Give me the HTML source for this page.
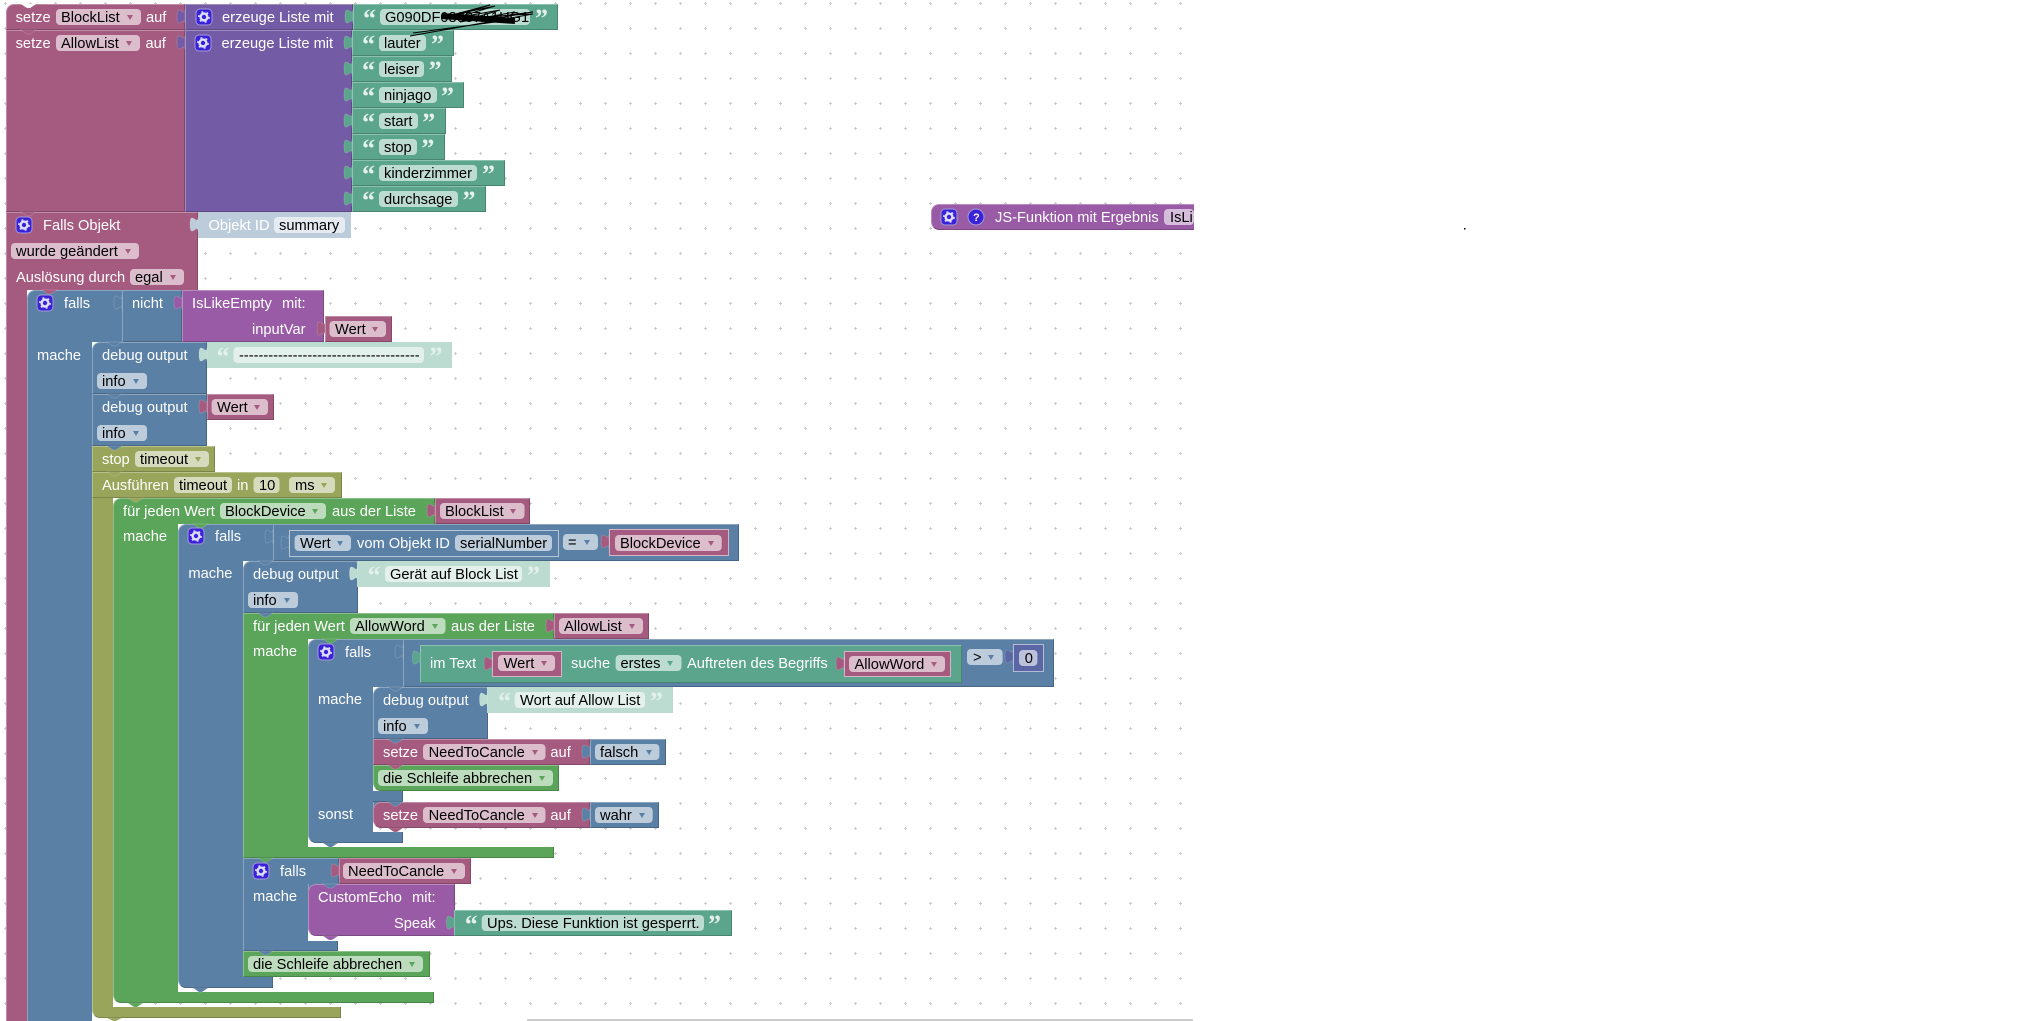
<!DOCTYPE html>
<html><head><meta charset="utf-8"><style>
html,body{margin:0;padding:0;background:#fff}
#r{position:relative;width:2021px;height:1021px;overflow:hidden;background:#fff}
svg{position:absolute;left:0;top:0}
.b{position:absolute;box-sizing:border-box;border:1px solid;border-color:var(--l) var(--d) var(--d) var(--l)}
.c{border-top:0;border-bottom:0;border-right:0}
.n{border-bottom:0}
.e{border-color:rgba(255,255,255,.55)}
.v{background:#a55b80;--l:#c08ca6;--d:#844966}
.l{background:#745ba5;--l:#9e8cc0;--d:#5d4984}
.t{background:#5ba58c;--l:#8cc0af;--d:#498470}
.u{background:#5b80a5;--l:#8ca6c0;--d:#496684}
.p{background:#995ba5;--l:#b88cc0;--d:#7a4984}
.g{background:#5ba55b;--l:#8cc08c;--d:#498449}
.o{background:#99a55b;--l:#b8c08c;--d:#7a8449}
.m{background:#5b67a5;--l:#8c95c0;--d:#495284}
.s{background:#bddcd1;--l:#bddcd1;--d:#bddcd1}
.x{background:#bdccdb;--l:#bdccdb;--d:#bdccdb}
text{font:14.67px "Liberation Sans",sans-serif;fill:#000;white-space:pre}
text.w{fill:#fff}
text.q{font:bold 26px "Liberation Serif",serif;fill:#e4f0ec}
text.h{font:bold 11px "Liberation Sans",sans-serif;fill:#fff}
.V{fill:#a55b80}.L{fill:#745ba5}.T{fill:#5ba58c}.U{fill:#5b80a5}.P{fill:#995ba5}.G{fill:#5ba55b}.O{fill:#99a55b}.M{fill:#5b67a5}.S{fill:#bddcd1}.X{fill:#bdccdb}.W{fill:#fff}
.k path{stroke:rgba(255,255,255,.2);stroke-width:.7}
.fv{fill:#dbbdcc}.fu{fill:#bdccdb}.fo{fill:#d6dbbd}.fg{fill:#bddcbd}.ft{fill:#bddcd1}.fs{fill:#e4f0ec}.fx{fill:#e5ebf1}.fm{fill:#bdc2db}.fp{fill:#d6bddb}
</style></head><body><div id="r">
<svg width="2021" height="1021"><defs><pattern id="grid" width="25" height="25" patternUnits="userSpaceOnUse"><path d="M4 3.5h3M5.5 2v3" stroke="#ccc" stroke-width="1" fill="none"/></pattern></defs><rect width="1194" height="1021" fill="url(#grid)"/><rect x="527" y="1019" width="666" height="2" fill="#ccc"/><rect x="1464" y="228" width="1.5" height="1.5" fill="#000"/></svg>

<div class="b v" style="left:6px;top:4px;width:179px;height:26px;border-top-left-radius:8px"></div>
<div class="b v" style="left:6px;top:30px;width:179px;height:182px"></div>
<div class="b v n" style="left:6px;top:212px;width:192px;height:78px"></div>
<div class="b v c" style="left:6px;top:290px;width:21px;height:731px"></div>
<div class="b l" style="left:185px;top:4px;width:168px;height:26px"></div>
<div class="b l" style="left:185px;top:30px;width:167px;height:182px"></div>
<div class="b t" style="left:353px;top:4px;width:205px;height:26px"></div>
<div class="b t" style="left:352px;top:30px;width:102px;height:26px"></div>
<div class="b t" style="left:352px;top:56px;width:100px;height:26px"></div>
<div class="b t" style="left:352px;top:82px;width:112px;height:26px"></div>
<div class="b t" style="left:352px;top:108px;width:94px;height:26px"></div>
<div class="b t" style="left:352px;top:134px;width:93px;height:26px"></div>
<div class="b t" style="left:352px;top:160px;width:153px;height:26px"></div>
<div class="b t" style="left:352px;top:186px;width:134px;height:26px"></div>
<div class="b x" style="left:198px;top:212px;width:153px;height:26px"></div>

<div class="b u n" style="left:27px;top:290px;width:95px;height:52px;border-top-left-radius:8px;border-right:0"></div>
<div class="b u" style="left:122px;top:290px;width:60px;height:52px"></div>
<div class="b u c" style="left:27px;top:342px;width:65px;height:679px"></div>
<div class="b p" style="left:182px;top:290px;width:142px;height:52px"></div>
<div class="b v" style="left:325px;top:316px;width:67px;height:26px"></div>
<div class="b u" style="left:92px;top:342px;width:115px;height:52px;border-top-left-radius:8px"></div>
<div class="b u" style="left:92px;top:394px;width:115px;height:52px"></div>
<div class="b s" style="left:207px;top:342px;width:245px;height:26px"></div>
<div class="b v" style="left:207px;top:394px;width:67px;height:26px"></div>
<div class="b o" style="left:92px;top:446px;width:123px;height:26px"></div>
<div class="b o c" style="left:92px;top:498px;width:21px;height:510px"></div>
<div class="b o" style="left:92px;top:472px;width:250px;height:26px"></div>
<div class="b o" style="left:92px;top:1007px;width:249px;height:11px;border-top:0;border-bottom-left-radius:8px"></div>

<div class="b g c" style="left:113px;top:524px;width:65px;height:469px"></div>
<div class="b g n" style="left:113px;top:498px;width:322px;height:26px;border-top-left-radius:8px"></div>
<div class="b g" style="left:113px;top:992px;width:321px;height:11px;border-top:0;border-bottom-left-radius:8px"></div>
<div class="b v" style="left:435px;top:498px;width:95px;height:26px"></div>

<div class="b u c" style="left:178px;top:561px;width:65px;height:417px"></div>
<div class="b u n" style="left:178px;top:524px;width:95px;height:37px;border-top-left-radius:8px;border-right:0"></div>
<div class="b u" style="left:273px;top:524px;width:466px;height:37px"></div>
<div class="b u e" style="left:289px;top:530px;width:270px;height:27px"></div>
<div class="b v e" style="left:609px;top:529px;width:120px;height:27px"></div>
<div class="b u" style="left:178px;top:977px;width:95px;height:11px;border-top:0;border-bottom-left-radius:8px"></div>
<div class="b u" style="left:243px;top:561px;width:115px;height:52px;border-top-left-radius:8px"></div>
<div class="b s" style="left:357px;top:561px;width:193px;height:26px"></div>
<div class="b g c" style="left:243px;top:639px;width:65px;height:209px"></div>
<div class="b g n" style="left:243px;top:613px;width:311px;height:26px"></div>
<div class="b v" style="left:554px;top:613px;width:95px;height:26px"></div>
<div class="b g" style="left:243px;top:847px;width:311px;height:11px;border-top:0"></div>

<div class="b u c" style="left:308px;top:687px;width:65px;height:146px"></div>
<div class="b u n" style="left:308px;top:639px;width:95px;height:48px;border-top-left-radius:8px;border-right:0"></div>
<div class="b u" style="left:403px;top:639px;width:651px;height:48px"></div>
<div class="b t" style="left:420px;top:645px;width:542px;height:38px"></div>
<div class="b v e" style="left:492px;top:651px;width:70px;height:26px"></div>
<div class="b v e" style="left:844px;top:651px;width:107px;height:26px"></div>
<div class="b m e" style="left:1013px;top:644px;width:31px;height:28px"></div>
<div class="b u" style="left:308px;top:832px;width:95px;height:11px;border-top:0;border-bottom-left-radius:8px"></div>
<div class="b u" style="left:373px;top:791px;width:30px;height:11px;border-top:0;border-left:0"></div>
<div class="b u c" style="left:373px;top:802px;width:8px;height:8px"></div>
<div class="b u" style="left:373px;top:687px;width:115px;height:52px;border-top-left-radius:8px"></div>
<div class="b s" style="left:487px;top:687px;width:186px;height:26px"></div>
<div class="b v" style="left:373px;top:739px;width:217px;height:26px"></div>
<div class="b u" style="left:590px;top:739px;width:76px;height:26px"></div>
<div class="b g" style="left:373px;top:765px;width:186px;height:26px;border-bottom-left-radius:8px"></div>
<div class="b v" style="left:373px;top:802px;width:217px;height:26px;border-radius:8px 0 0 8px"></div>
<div class="b u" style="left:590px;top:802px;width:69px;height:26px"></div>

<div class="b u c" style="left:243px;top:884px;width:65px;height:58px"></div>
<div class="b u n" style="left:243px;top:858px;width:96px;height:26px"></div>
<div class="b v" style="left:339px;top:858px;width:132px;height:26px"></div>
<div class="b u" style="left:243px;top:941px;width:95px;height:10px;border-top:0"></div>
<div class="b u c" style="left:308px;top:884px;width:8px;height:8px"></div>
<div class="b p" style="left:308px;top:884px;width:147px;height:52px;border-radius:8px 0 0 8px"></div>
<div class="b t" style="left:454px;top:910px;width:278px;height:26px"></div>
<div class="b g" style="left:243px;top:951px;width:187px;height:26px"></div>

<div class="b p" style="left:931px;top:204px;width:263px;height:26px;border-radius:8px 0 0 8px;border-right:0"></div>

<svg width="2021" height="1021">
<defs><g id="gr"><rect x="-8" y="-8" width="16" height="16" rx="4" fill="#3a22d8" stroke="#a49ad8" stroke-width="1"/><circle r="3.4" fill="none" stroke="#e0e0ff" stroke-width="2.4"/><circle r="5.2" fill="none" stroke="#e0e0ff" stroke-width="1.4" stroke-dasharray="2 3.4"/></g><clipPath id="cl"><rect width="1194" height="1021"/></clipPath></defs>

<g class="k">
<path class="W" d="M21 4l6 4h3l6-4z"/>
<path class="V" d="M21 30l6 4h3l6-4z"/><path class="V" d="M21 212l6 4h3l6-4z"/><path class="V" d="M42 290l6 4h3l6-4z"/>
<path class="U" d="M107 342l6 4h3l6-4z"/><path class="U" d="M107 394l6 4h3l6-4z"/><path class="U" d="M107 446l6 4h3l6-4z"/>
<path class="O" d="M107 472l6 4h3l6-4z"/><path class="O" d="M128 498l6 4h3l6-4z"/><path class="G" d="M193 524l6 4h3l6-4z"/>
<path class="U" d="M258 561l6 4h3l6-4z"/><path class="U" d="M258 613l6 4h3l6-4z"/><path class="G" d="M323 639l6 4h3l6-4z"/>
<path class="U" d="M388 687l6 4h3l6-4z"/><path class="U" d="M388 739l6 4h3l6-4z"/><path class="V" d="M388 765l6 4h3l6-4z"/>
<path class="U" d="M388 802l6 4h3l6-4z"/><path class="V" d="M388 828l6 4h3l6-4z"/><path class="U" d="M323 843l6 4h3l6-4z"/>
<path class="G" d="M258 858l6 4h3l6-4z"/><path class="U" d="M323 884l6 4h3l6-4z"/><path class="P" d="M323 936l6 4h3l6-4z"/>
<path class="U" d="M258 951l6 4h3l6-4z"/><path class="U" d="M193 988l6 4h3l6-4z"/><path class="G" d="M128 1003l6 4h3l6-4z"/><path class="O" d="M107 1018l6 3h3l6-3z"/>

<path class="L" d="M185 9c0 10-8-8-8 7.5s8-2.5 8 7.5z"/><path class="L" d="M185 35c0 10-8-8-8 7.5s8-2.5 8 7.5z"/>
<path class="T" d="M353 9c0 10-8-8-8 7.5s8-2.5 8 7.5z"/>
<path class="T" d="M352 35c0 10-8-8-8 7.5s8-2.5 8 7.5z"/><path class="T" d="M352 61c0 10-8-8-8 7.5s8-2.5 8 7.5z"/><path class="T" d="M352 87c0 10-8-8-8 7.5s8-2.5 8 7.5z"/><path class="T" d="M352 113c0 10-8-8-8 7.5s8-2.5 8 7.5z"/><path class="T" d="M352 139c0 10-8-8-8 7.5s8-2.5 8 7.5z"/><path class="T" d="M352 165c0 10-8-8-8 7.5s8-2.5 8 7.5z"/><path class="T" d="M352 191c0 10-8-8-8 7.5s8-2.5 8 7.5z"/>
<path class="X" d="M198 217c0 10-8-8-8 7.5s8-2.5 8 7.5z"/>
<path class="U" d="M122 295c0 10-8-8-8 7.5s8-2.5 8 7.5z"/><path class="P" d="M182 295c0 10-8-8-8 7.5s8-2.5 8 7.5z"/><path class="V" d="M325 321c0 10-8-8-8 7.5s8-2.5 8 7.5z"/>
<path class="S" d="M207 347c0 10-8-8-8 7.5s8-2.5 8 7.5z"/><path class="V" d="M207 399c0 10-8-8-8 7.5s8-2.5 8 7.5z"/>
<path class="V" d="M435 503c0 10-8-8-8 7.5s8-2.5 8 7.5z"/>
<path class="U" d="M273 529c0 10-8-8-8 7.5s8-2.5 8 7.5z"/><path class="U" d="M289 535c0 10-8-8-8 7.5s8-2.5 8 7.5z"/><path class="V" d="M609 534c0 10-8-8-8 7.5s8-2.5 8 7.5z"/>
<path class="S" d="M357.500 566c0 10-8-8-8 7.5s8-2.5 8 7.5z"/><path class="V" d="M554 618c0 10-8-8-8 7.5s8-2.5 8 7.5z"/>
<path class="U" d="M403 644c0 10-8-8-8 7.5s8-2.5 8 7.5z"/><path class="T" d="M420.500 650c0 10-8-8-8 7.5s8-2.5 8 7.5z"/><path class="V" d="M492 656c0 10-8-8-8 7.5s8-2.5 8 7.5z"/><path class="V" d="M844 656c0 10-8-8-8 7.5s8-2.5 8 7.5z"/><path class="M" d="M1013 649c0 10-8-8-8 7.5s8-2.5 8 7.5z"/>
<path class="S" d="M487.500 692c0 10-8-8-8 7.5s8-2.5 8 7.5z"/><path class="U" d="M590 744c0 10-8-8-8 7.5s8-2.5 8 7.5z"/><path class="U" d="M590 807c0 10-8-8-8 7.5s8-2.5 8 7.5z"/>
<path class="V" d="M339 863c0 10-8-8-8 7.5s8-2.5 8 7.5z"/><path class="T" d="M454.500 915c0 10-8-8-8 7.5s8-2.5 8 7.5z"/>
</g>

<!-- gears -->
<use href="#gr" x="204" y="17"/><use href="#gr" x="203" y="43"/><use href="#gr" x="24" y="225"/><use href="#gr" x="45" y="303"/><use href="#gr" x="196" y="536"/><use href="#gr" x="326" y="652"/><use href="#gr" x="261" y="871"/><use href="#gr" x="949" y="217"/>
<circle cx="976" cy="217" r="8" fill="#3a22d8" stroke="#a49ad8"/><text class="h" x="973" y="221">?</text>

<!-- fields -->
<rect class="fv" x="56" y="9" width="85" height="16" rx="4"/><path class="V" d="M127 15h6l-3 5z"/>
<rect class="fv" x="56" y="35" width="84" height="16" rx="4"/><path class="V" d="M126 41h6l-3 5z"/>
<rect class="ft" x="380" y="9" width="150" height="16" rx="4"/>
<rect class="ft" x="379" y="35" width="47" height="16" rx="4"/>
<rect class="ft" x="379" y="61" width="45" height="16" rx="4"/>
<rect class="ft" x="379" y="87" width="58" height="16" rx="4"/>
<rect class="ft" x="379" y="113" width="39" height="16" rx="4"/>
<rect class="ft" x="379" y="139" width="38" height="16" rx="4"/>
<rect class="ft" x="379" y="165" width="98" height="16" rx="4"/>
<rect class="ft" x="379" y="191" width="79" height="16" rx="4"/>
<rect class="fx" x="274" y="217" width="71" height="16" rx="4"/>
<rect class="fv" x="11" y="243" width="128" height="16" rx="4"/><path class="V" d="M125 249h6l-3 5z"/>
<rect class="fv" x="130" y="269" width="54" height="16" rx="4"/><path class="V" d="M170 275h6l-3 5z"/>
<rect class="fv" x="329.500" y="321" width="56.500" height="16" rx="4"/><path class="V" d="M372 327h6l-3 5z"/>
<rect class="fs" x="233.500" y="347" width="190.500" height="16" rx="4"/>
<rect class="fu" x="97" y="373" width="50" height="16" rx="4"/><path class="U" d="M133 379h6l-3 5z"/>
<rect class="fv" x="211.600" y="399" width="56.400" height="16" rx="4"/><path class="V" d="M254 405h6l-3 5z"/>
<rect class="fu" x="97" y="425" width="50" height="16" rx="4"/><path class="U" d="M133 431h6l-3 5z"/>
<rect class="fo" x="135" y="451" width="74" height="16" rx="4"/><path class="O" d="M195 457h6l-3 5z"/>
<rect class="fo" x="174" y="477" width="58" height="16" rx="4"/>
<rect class="fo" x="253.500" y="477" width="26" height="16" rx="4"/>
<rect class="fo" x="289" y="477" width="46" height="16" rx="4"/><path class="O" d="M321 483h6l-3 5z"/>
<rect class="fg" x="220" y="503" width="106" height="16" rx="4"/><path class="G" d="M312 509h6l-3 5z"/>
<rect class="fv" x="440" y="503" width="84.500" height="16" rx="4"/><path class="V" d="M510 509h6l-3 5z"/>
<rect class="fu" x="294.600" y="535" width="56.400" height="16" rx="4"/><path class="U" d="M337 541h6l-3 5z"/>
<rect class="fu" x="455" y="535" width="97" height="16" rx="4"/>
<rect class="fu" x="563" y="534" width="35" height="16" rx="4"/><path class="U" d="M584 540h6l-3 5z"/>
<rect class="fv" x="615" y="535" width="106.700" height="16" rx="4"/><path class="V" d="M708 541h6l-3 5z"/>
<rect class="fs" x="385" y="566" width="137" height="16" rx="4"/>
<rect class="fu" x="248" y="592" width="50" height="16" rx="4"/><path class="U" d="M284 598h6l-3 5z"/>
<rect class="fg" x="350" y="618" width="95.500" height="16" rx="4"/><path class="G" d="M432 624h6l-3 5z"/>
<rect class="fv" x="559" y="618" width="84" height="16" rx="4"/><path class="V" d="M629 624h6l-3 5z"/>
<rect class="fv" x="498" y="655" width="57" height="16" rx="4"/><path class="V" d="M541 661h6l-3 5z"/>
<rect class="ft" x="615.600" y="655" width="65.900" height="16" rx="4"/><path class="T" d="M667 661h6l-3 5z"/>
<rect class="fv" x="849" y="656" width="96" height="16" rx="4"/><path class="V" d="M931 662h6l-3 5z"/>
<rect class="fu" x="967" y="649" width="35.600" height="16" rx="4"/><path class="U" d="M988 655h6l-3 5z"/>
<rect class="fm" x="1019" y="650" width="18.400" height="16" rx="4"/>
<rect class="fs" x="514.700" y="692" width="130.300" height="16" rx="4"/>
<rect class="fu" x="378" y="718" width="50" height="16" rx="4"/><path class="U" d="M414 724h6l-3 5z"/>
<rect class="fv" x="423" y="744" width="122.500" height="16" rx="4"/><path class="V" d="M532 750h6l-3 5z"/>
<rect class="fu" x="595" y="744" width="64.400" height="16" rx="4"/><path class="U" d="M646 750h6l-3 5z"/>
<rect class="fg" x="378" y="770" width="175" height="16" rx="4"/><path class="G" d="M539 776h6l-3 5z"/>
<rect class="fv" x="423" y="807" width="122.500" height="16" rx="4"/><path class="V" d="M532 813h6l-3 5z"/>
<rect class="fu" x="595" y="807" width="57.700" height="16" rx="4"/><path class="U" d="M639 813h6l-3 5z"/>
<rect class="fv" x="343" y="863" width="122" height="16" rx="4"/><path class="V" d="M451 869h6l-3 5z"/>
<rect class="ft" x="481.700" y="915" width="222.300" height="16" rx="4"/>
<rect class="fg" x="248" y="956" width="175" height="16" rx="4"/><path class="G" d="M409 962h6l-3 5z"/>
<rect class="fp" x="1164" y="209" width="30" height="16" rx="4" clip-path="url(#cl)"/>

<!-- quotes -->
<text class="q" x="363" y="27">“</text><text class="q" x="535" y="27">”</text>
<text class="q" x="362" y="53">“</text><text class="q" x="431" y="53">”</text>
<text class="q" x="362" y="79">“</text><text class="q" x="428.600" y="79">”</text>
<text class="q" x="362" y="105">“</text><text class="q" x="441" y="105">”</text>
<text class="q" x="362" y="131">“</text><text class="q" x="422.300" y="131">”</text>
<text class="q" x="362" y="157">“</text><text class="q" x="421.400" y="157">”</text>
<text class="q" x="362" y="183">“</text><text class="q" x="482" y="183">”</text>
<text class="q" x="362" y="209">“</text><text class="q" x="462.500" y="209">”</text>
<text class="q" x="216.500" y="365">“</text><text class="q" x="429.500" y="365">”</text>
<text class="q" x="367.500" y="584">“</text><text class="q" x="527" y="584">”</text>
<text class="q" x="498" y="710">“</text><text class="q" x="650" y="710">”</text>
<text class="q" x="464.700" y="933">“</text><text class="q" x="708" y="933">”</text>

<!-- block labels -->
<text class="w" x="15.600" y="22">setze</text><text x="61" y="22">BlockList</text><text class="w" x="146" y="22">auf</text>
<text class="w" x="222" y="22">erzeuge Liste mit</text><text x="385" y="22">G090DF08037A1UG1</text>
<text class="w" x="15.600" y="48">setze</text><text x="61" y="48">AllowList</text><text class="w" x="145.500" y="48">auf</text>
<text class="w" x="221.500" y="48">erzeuge Liste mit</text>
<text x="384" y="48">lauter</text><text x="384" y="74">leiser</text><text x="384" y="100">ninjago</text><text x="384" y="126">start</text><text x="384" y="152">stop</text><text x="384" y="178">kinderzimmer</text><text x="384" y="204">durchsage</text>
<text class="w" x="43" y="230">Falls Objekt</text><text class="w" x="208.500" y="230">Objekt ID</text><text x="279" y="230">summary</text>
<text x="16" y="256">wurde geändert</text>
<text class="w" x="16" y="282">Auslösung durch</text><text x="135" y="282">egal</text>
<text class="w" x="64" y="308">falls</text><text class="w" x="132" y="308">nicht</text><text class="w" x="192" y="308">IsLikeEmpty</text><text class="w" x="282" y="308">mit:</text>
<text class="w" x="252" y="334">inputVar</text><text x="335" y="334">Wert</text>
<text class="w" x="37" y="360">mache</text><text class="w" x="102" y="360">debug output</text><text x="239" y="360">-------------------------------------</text>
<text x="102" y="386">info</text>
<text class="w" x="102" y="412">debug output</text><text x="217" y="412">Wert</text>
<text x="102" y="438">info</text>
<text class="w" x="102" y="464">stop</text><text x="140" y="464">timeout</text>
<text class="w" x="102" y="490">Ausführen</text><text x="179" y="490">timeout</text><text class="w" x="237" y="490">in</text><text x="259" y="490">10</text><text x="295" y="490">ms</text>
<text class="w" x="123" y="516">für jeden Wert</text><text x="225" y="516">BlockDevice</text><text class="w" x="332" y="516">aus der Liste</text><text x="445" y="516">BlockList</text>
<text class="w" x="123" y="541">mache</text>
<text class="w" x="215" y="541">falls</text><text x="300" y="548">Wert</text><text class="w" x="357" y="548">vom Objekt ID</text><text x="460" y="548">serialNumber</text><text x="568" y="547">=</text><text x="620" y="548">BlockDevice</text>
<text class="w" x="188.400" y="578">mache</text><text class="w" x="253" y="579">debug output</text><text x="390" y="579">Gerät auf Block List</text>
<text x="253" y="605">info</text>
<text class="w" x="253" y="631">für jeden Wert</text><text x="355" y="631">AllowWord</text><text class="w" x="451" y="631">aus der Liste</text><text x="564" y="631">AllowList</text>
<text class="w" x="253" y="656">mache</text><text class="w" x="345" y="657">falls</text>
<text class="w" x="430" y="668">im Text</text><text x="503.600" y="668">Wert</text><text class="w" x="571" y="668">suche</text><text x="620.500" y="668">erstes</text><text class="w" x="687" y="668">Auftreten des Begriffs</text><text x="854.500" y="669">AllowWord</text>
<text x="973" y="662">&gt;</text><text x="1024.800" y="663">0</text>
<text class="w" x="318" y="704">mache</text><text class="w" x="383" y="705">debug output</text><text x="520" y="705">Wort auf Allow List</text>
<text x="383" y="731">info</text>
<text class="w" x="383" y="757">setze</text><text x="428.600" y="757">NeedToCancle</text><text class="w" x="550.400" y="757">auf</text><text x="600" y="757">falsch</text>
<text x="383" y="783">die Schleife abbrechen</text>
<text class="w" x="318" y="819">sonst</text><text class="w" x="383" y="820">setze</text><text x="428.600" y="820">NeedToCancle</text><text class="w" x="550.400" y="820">auf</text><text x="600" y="820">wahr</text>
<text class="w" x="280" y="876">falls</text><text x="348" y="876">NeedToCancle</text>
<text class="w" x="253" y="901">mache</text><text class="w" x="318" y="902">CustomEcho</text><text class="w" x="412" y="902">mit:</text>
<text class="w" x="394" y="928">Speak</text><text x="487" y="928">Ups. Diese Funktion ist gesperrt.</text>
<text x="253" y="969">die Schleife abbrechen</text>
<text class="w" x="995" y="222">JS-Funktion mit Ergebnis</text><text x="1170" y="222" clip-path="url(#cl)">IsLi</text>

<!-- scribble -->
<path d="M410 36L533 14L445 19L490 5L448 16L495 6L455 18L500 10L460 22L515 12L470 20L533 12L480 21L510 20L413 33" fill="none" stroke="#000" stroke-width="1"/>
<path d="M442 16L515 21" fill="none" stroke="#000" stroke-width="6"/>
</svg>
</div></body></html>
